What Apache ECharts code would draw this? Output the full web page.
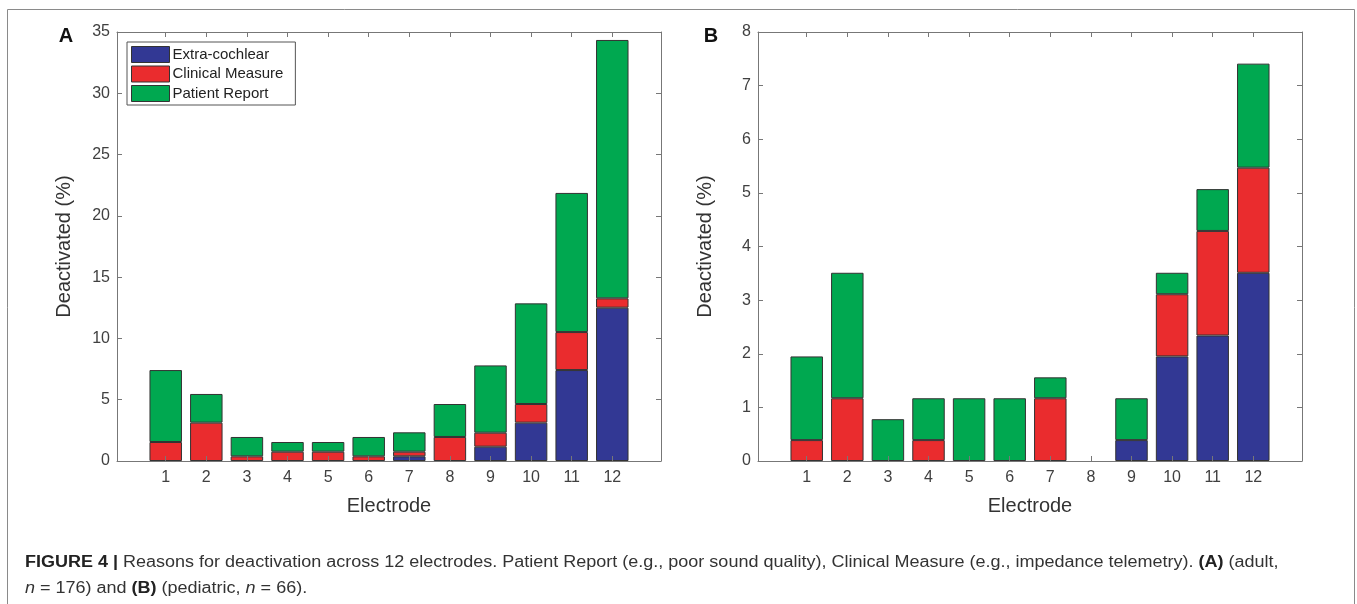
<!DOCTYPE html>
<html><head><meta charset="utf-8">
<script src="https://cdn.jsdelivr.net/npm/echarts@6/dist/echarts.min.js"></script>
<style>html,body{margin:0;padding:0;background:#fff}#c{width:1357px;height:604px}</style>
</head><body><div id="c"></div>
<script>
// ---- data ----
const electrodes = [1, 2, 3, 4, 5, 6, 7, 8, 9, 10, 11, 12];
const seriesNames = ['Extra-cochlear', 'Clinical Measure', 'Patient Report'];
// Panel A (adult) – stacked segment heights, %
const adultExtra    = [0, 0, 0, 0, 0, 0, 0.38, 0, 1.17, 3.13, 7.42, 12.51];
const adultClinical = [1.55, 3.13, 0.38, 0.76, 0.76, 0.38, 0.38, 1.96, 1.14, 1.52, 3.10, 0.76];
const adultPatient  = [5.87, 2.34, 1.58, 0.79, 0.79, 1.58, 1.58, 2.69, 5.49, 8.21, 11.35, 21.08];
// Panel B (pediatric)
const pedExtra    = [0, 0, 0, 0, 0, 0, 0, 0, 0.39, 1.95, 2.34, 3.51];
const pedClinical = [0.39, 1.17, 0, 0.39, 0, 0, 1.17, 0, 0, 1.16, 1.95, 1.96];
const pedPatient  = [1.56, 2.34, 0.78, 0.78, 1.17, 1.17, 0.39, 0, 0.78, 0.40, 0.78, 1.94];
const yTicksA = [0, 5, 10, 15, 20, 25, 30, 35];
const yTicksB = [0, 1, 2, 3, 4, 5, 6, 7, 8];
const xLimits = [-0.2, 13.2];

// ---- layout / style ----
const FONT = "'Liberation Sans', Arial, Helvetica, sans-serif";
const colors = ['#323894', '#ea2c2e', '#00a850'];
const axisGray = '#777';
const labelGray = '#404040';
const frameW = 544, frameH = 429, frameTop = 32;
const frameLeft = [117, 758];
const unit = frameW / (xLimits[1] - xLimits[0]);
const dataOffset = (electrodes[0] - 0.5 - xLimits[0]) * unit;
const dataW = electrodes.length * unit;

function frameX(gridIndex, pos) {
  const bottom = pos === 'bottom';
  return {
    type: 'value', gridIndex, position: pos, z: 5,
    min: xLimits[0], max: xLimits[1],
    axisLine: { show: true, onZero: false, lineStyle: { color: axisGray, width: 1 } },
    axisTick: { show: true, inside: true, length: 5, customValues: electrodes, lineStyle: { color: axisGray } },
    axisLabel: { show: bottom, customValues: electrodes, margin: 9, color: labelGray, fontSize: 16, fontFamily: FONT },
    splitLine: { show: false },
    name: bottom ? 'Electrode' : '', nameLocation: 'middle', nameGap: 35,
    nameTextStyle: { fontSize: 20, fontFamily: FONT, color: '#333' }
  };
}
function frameY(gridIndex, pos, ticks) {
  const left = pos === 'left';
  return {
    type: 'value', gridIndex, position: pos, z: 5,
    min: ticks[0], max: ticks[ticks.length - 1], interval: ticks[1] - ticks[0],
    axisLine: { show: true, onZero: false, lineStyle: { color: axisGray, width: 1 } },
    axisTick: { show: true, inside: true, length: 5, lineStyle: { color: axisGray } },
    axisLabel: { show: left, margin: 7, color: labelGray, fontSize: 16, fontFamily: FONT },
    splitLine: { show: false },
    name: left ? 'Deactivated (%)' : '', nameLocation: 'middle', nameGap: 43,
    nameTextStyle: { fontSize: 20, fontFamily: FONT, color: '#333' }
  };
}
function dataX(gridIndex) {
  return { type: 'category', gridIndex, data: electrodes.map(String), boundaryGap: true, show: false };
}
function dataY(gridIndex, ticks) {
  return { type: 'value', gridIndex, min: ticks[0], max: ticks[ticks.length - 1], interval: ticks[1] - ticks[0], show: false };
}
function mkSeries(name, vals, xi, yi, stack, ci) {
  return {
    type: 'bar', name, stack, xAxisIndex: xi, yAxisIndex: yi,
    barWidth: '80%',
    data: vals.map(v => (v ? v : null)),
    itemStyle: { color: colors[ci], borderColor: '#333', borderWidth: 1 },
    emphasis: { disabled: true }
  };
}

const option = {
  animation: false,
  textStyle: { fontFamily: FONT },
  grid: [
    { left: frameLeft[0] + dataOffset, top: frameTop, width: dataW, height: frameH },
    { left: frameLeft[1] + dataOffset, top: frameTop, width: dataW, height: frameH },
    { left: frameLeft[0], top: frameTop, width: frameW, height: frameH },
    { left: frameLeft[1], top: frameTop, width: frameW, height: frameH }
  ],
  xAxis: [dataX(0), dataX(1), frameX(2, 'bottom'), frameX(2, 'top'), frameX(3, 'bottom'), frameX(3, 'top')],
  yAxis: [dataY(0, yTicksA), dataY(1, yTicksB),
          frameY(2, 'left', yTicksA), frameY(2, 'right', yTicksA),
          frameY(3, 'left', yTicksB), frameY(3, 'right', yTicksB)],
  legend: {
    data: seriesNames, orient: 'vertical', left: 127, top: 42, z: 6,
    itemWidth: 38, itemHeight: 16, itemGap: 2.5,
    padding: [4, 12, 3, 4],
    borderColor: '#555', borderWidth: 1, backgroundColor: '#fff',
    icon: 'rect',
    itemStyle: { borderColor: '#333', borderWidth: 1 },
    textStyle: { fontSize: 15, fontFamily: FONT, color: '#222', padding: [0, 0, 0, -2] },
    selectedMode: false
  },
  series: [
    mkSeries(seriesNames[0], adultExtra, 0, 0, 'a', 0),
    mkSeries(seriesNames[1], adultClinical, 0, 0, 'a', 1),
    mkSeries(seriesNames[2], adultPatient, 0, 0, 'a', 2),
    mkSeries(seriesNames[0], pedExtra, 1, 1, 'b', 0),
    mkSeries(seriesNames[1], pedClinical, 1, 1, 'b', 1),
    mkSeries(seriesNames[2], pedPatient, 1, 1, 'b', 2)
  ],
  graphic: [
    { type: 'rect', shape: { x: 7.5, y: 9.5, width: 1347, height: 700 }, style: { fill: 'none', stroke: '#8a8a8a', lineWidth: 1 }, silent: true },
    { type: 'text', x: 66, y: 36, style: { text: 'A', fontSize: 20, fontWeight: 'bold', fontFamily: FONT, fill: '#111', align: 'center', verticalAlign: 'middle' } },
    { type: 'text', x: 711, y: 36, style: { text: 'B', fontSize: 20, fontWeight: 'bold', fontFamily: FONT, fill: '#111', align: 'center', verticalAlign: 'middle' } },
    { type: 'text', x: 25, y: 563, scaleX: 1.125, style: {
        text: '{b|FIGURE 4 |} Reasons for deactivation across 12 electrodes. Patient Report (e.g., poor sound quality), Clinical Measure (e.g., impedance telemetry). {b|(A)} (adult,',
        fontSize: 16, fontFamily: FONT, fill: '#333', verticalAlign: 'middle',
        rich: { b: { fontSize: 16, fontFamily: FONT, fontWeight: 'bold', fill: '#222' } } } },
    { type: 'text', x: 25, y: 589, scaleX: 1.125, style: {
        text: '{i|n} = 176) and {b|(B)} (pediatric, {i|n} = 66).',
        fontSize: 16, fontFamily: FONT, fill: '#333', verticalAlign: 'middle',
        rich: { b: { fontSize: 16, fontFamily: FONT, fontWeight: 'bold', fill: '#222' },
                i: { fontSize: 16, fontFamily: FONT, fontStyle: 'italic', fill: '#333' } } } }
  ]
};
const chart = echarts.init(document.getElementById('c'), null, { renderer: 'canvas' });
chart.setOption(option);
</script></body></html>
